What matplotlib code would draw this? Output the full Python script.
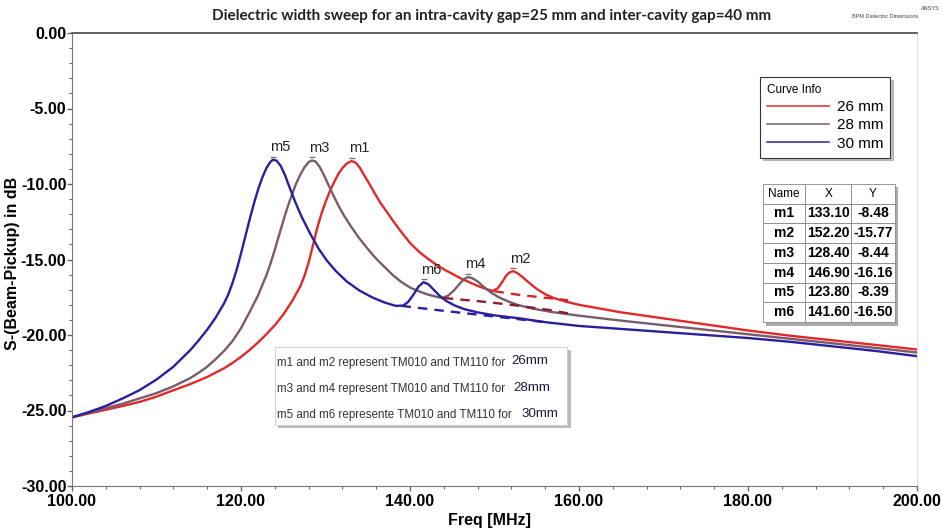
import matplotlib
matplotlib.use("Agg")
import matplotlib.pyplot as plt
from matplotlib.patches import Rectangle
from matplotlib.ticker import MultipleLocator, FormatStrFormatter

# ---- curve data (freq MHz, S in dB) ----
freq_26 = [100, 102, 104, 106, 108, 110, 112, 114, 116, 118, 119, 120, 121, 122, 123,
           124, 125, 126, 127, 127.5, 128, 128.5, 129, 129.5, 130, 130.5, 131, 131.5,
           132, 132.5, 133.1, 133.6, 134.1, 134.6, 135.2, 135.8, 136.5, 137.2, 138,
           139, 140, 141, 142, 143, 144, 145, 146, 147, 148, 149, 149.8, 150.4,
           150.9, 151.4, 151.8, 152.2, 152.7, 153.3, 154, 155, 156, 157, 158.5, 160,
           162, 165, 170, 175, 180, 185, 190, 195, 200]
s_26 = [-25.45, -25.2, -24.95, -24.7, -24.43, -24.08, -23.66, -23.25, -22.78, -22.2,
        -21.85, -21.45, -21.0, -20.5, -19.95, -19.35, -18.65, -17.8, -16.8, -16.1,
        -15.2, -14.1, -12.95, -12.0, -11.2, -10.5, -9.9, -9.35, -8.95, -8.65, -8.48,
        -8.6, -8.95, -9.45, -10.0, -10.6, -11.25, -11.8, -12.45, -13.2, -13.9,
        -14.45, -14.9, -15.3, -15.65, -15.95, -16.25, -16.5, -16.75, -16.95, -17.08,
        -16.9, -16.5, -16.05, -15.85, -15.77, -15.9, -16.15, -16.5, -16.95, -17.3,
        -17.55, -17.8, -18.0, -18.2, -18.5, -18.9, -19.3, -19.7, -20.05, -20.35,
        -20.65, -20.96]

freq_28 = [100, 102, 104, 106, 108, 110, 112, 114, 115, 116, 117, 118, 119, 120,
           121, 122, 123, 123.5, 124, 124.5, 125, 125.5, 126, 126.5, 127, 127.5,
           128, 128.4, 128.8, 129.3, 129.8, 130.3, 130.8, 131.5, 132.2, 133, 134,
           135, 136, 137, 138, 139, 140, 141, 142, 143, 143.8, 144.5, 145.2, 145.8,
           146.4, 146.9, 147.4, 148, 148.7, 149.5, 150.4, 151.5, 152.7, 154.5, 156.7,
           160, 165, 170, 175, 180, 185, 190, 195, 200]
s_28 = [-25.45, -25.15, -24.85, -24.55, -24.2, -23.85, -23.4, -22.85, -22.5, -22.1,
        -21.6, -21.05, -20.4, -19.55, -18.5, -17.4, -16.05, -15.25, -14.35, -13.4,
        -12.45, -11.55, -10.75, -10.0, -9.4, -8.9, -8.55, -8.44, -8.5, -8.85, -9.4,
        -10.0, -10.6, -11.4, -12.1, -12.8, -13.6, -14.3, -14.95, -15.5, -16.05,
        -16.5, -16.85, -17.1, -17.3, -17.45, -17.55, -17.4, -17.05, -16.65, -16.3,
        -16.16, -16.25, -16.45, -16.8, -17.15, -17.47, -17.75, -18.0, -18.25, -18.47,
        -18.72, -19.05, -19.35, -19.65, -19.95, -20.25, -20.55, -20.85, -21.16]

freq_30 = [100, 102, 104, 106, 108, 110, 112, 113, 114, 115, 116, 117, 118, 118.5,
           119, 119.5, 120, 120.5, 121, 121.5, 122, 122.5, 123, 123.5, 123.8, 124.2,
           124.7, 125.2, 125.8, 126.5, 127.2, 128.2, 129.2, 130.2, 131.2, 132.5, 134,
           135.5, 137, 138.3, 139.2, 139.8, 140.5, 141, 141.6, 142.2, 142.8, 143.5,
           144.3, 145.3, 146.5, 148, 150, 153, 156, 160, 165, 170, 175, 180, 185, 190,
           195, 200]
s_30 = [-25.45, -25.1, -24.7, -24.2, -23.65, -22.95, -22.1, -21.55, -21.0, -20.35,
        -19.65, -18.85, -17.9, -17.3, -16.55, -15.65, -14.6, -13.5, -12.4, -11.35,
        -10.4, -9.6, -8.95, -8.52, -8.39, -8.45, -8.8, -9.4, -10.3, -11.3, -12.2,
        -13.3, -14.3, -15.1, -15.75, -16.45, -17.05, -17.5, -17.85, -18.07, -18.05,
        -17.8, -17.25, -16.8, -16.5, -16.65, -17.0, -17.4, -17.75, -18.05, -18.3,
        -18.5, -18.7, -18.9, -19.15, -19.4, -19.6, -19.8, -20.0, -20.2, -20.45,
        -20.75, -21.05, -21.4]

# dashed baselines under the second resonance
dash_freq_26 = [150.0, 153, 156.3, 158.7]
dash_s_26 = [-17.1, -17.35, -17.55, -17.7]
dash_freq_28 = [144.0, 148.8, 152.7, 156.7, 159]
dash_s_28 = [-17.55, -17.8, -18.05, -18.36, -18.6]
dash_freq_30 = [139.0, 144, 148, 152, 156]
dash_s_30 = [-18.07, -18.4, -18.65, -18.9, -19.15]

# marker table
marker_names = ["m1", "m2", "m3", "m4", "m5", "m6"]
marker_x = [133.10, 152.20, 128.40, 146.90, 123.80, 141.60]
marker_y = [-8.48, -15.77, -8.44, -16.16, -8.39, -16.50]

curve_labels = ["26 mm", "28 mm", "30 mm"]
note_lines = ["m1 and m2 represent TM010 and TM110 for",
              "m3 and m4 represent TM010 and TM110 for",
              "m5 and m6 represente TM010 and TM110 for"]
note_sizes = ["26mm", "28mm", "30mm"]

RED = "#e02a2a"
PURPLE = "#7a5b6b"
BLUE = "#2a1f9c"

fig = plt.figure(figsize=(9.42, 5.30), dpi=100)
ax = fig.add_axes([72 / 942, 1 - 486 / 530, 845 / 942, 453 / 530])

l26, = ax.plot(freq_26, s_26, color=RED, lw=1.7, label=curve_labels[0])
l28, = ax.plot(freq_28, s_28, color=PURPLE, lw=1.7, label=curve_labels[1])
l30, = ax.plot(freq_30, s_30, color=BLUE, lw=1.7, label=curve_labels[2])
ax.plot(dash_freq_26, dash_s_26, color="#d02828", lw=1.7, ls=(0, (4, 3)))
ax.plot(dash_freq_28, dash_s_28, color="#8a1e2e", lw=1.7, ls=(0, (4, 3)))
ax.plot(dash_freq_30, dash_s_30, color=BLUE, lw=1.7, ls=(0, (4, 3)))

# peak markers
ax.plot(marker_x, [v + 0.2 for v in marker_y], ls="none", marker="_",
        color="#777777", ms=4, mew=1)
for name, mx, my in zip(marker_names, marker_x, marker_y):
    ax.annotate(name, (mx, my), xytext=(-2, 4), textcoords="offset points",
                ha="left", va="bottom", fontsize=10.5, family="Liberation Sans",
                color="#222222")

ax.set_xlim(100, 200)
ax.set_ylim(-30, 0)
ax.xaxis.set_major_locator(MultipleLocator(20))
ax.xaxis.set_minor_locator(MultipleLocator(4))
ax.yaxis.set_major_locator(MultipleLocator(5))
ax.yaxis.set_minor_locator(MultipleLocator(1))
ax.xaxis.set_major_formatter(FormatStrFormatter("%.2f"))
ax.yaxis.set_major_formatter(FormatStrFormatter("%.2f"))
ax.tick_params(which="both", direction="out", color="#666666")
ax.tick_params(which="major", length=3.5, width=1)
ax.tick_params(which="minor", length=2.5, width=0.8)
ax.tick_params(axis="y", which="major", pad=0.5)
ax.tick_params(axis="x", which="major", pad=2.5)
for lab in ax.get_xticklabels() + ax.get_yticklabels():
    lab.set_fontfamily("Liberation Sans")
    lab.set_fontweight("bold")
    lab.set_fontsize(11.5)
ax.spines["left"].set_color("#777777")
ax.spines["bottom"].set_color("#777777")
ax.spines["top"].set_color("#555555")
ax.spines["top"].set_linewidth(1.3)
ax.spines["right"].set_color("#dddddd")
ax.spines["right"].set_linewidth(0.8)

# legend
leg = ax.legend(handles=[l26, l28, l30], title="Curve Info", loc="upper left",
                bbox_to_anchor=(0.814, 0.903), borderaxespad=0, alignment="left",
                frameon=True, fancybox=False,
                shadow={"color": "#999999", "alpha": 0.6},
                handlelength=4.1, handletextpad=0.5, labelspacing=0.28,
                borderpad=0.45, prop={"family": "Liberation Sans", "size": 11},
                title_fontproperties={"family": "Liberation Sans", "size": 8.5})
leg.get_frame().set_edgecolor("#333333")
leg.get_frame().set_linewidth(0.8)
for h in leg.legend_handles:
    h.set_linewidth(1.1)

# marker table
cell_text = [[n, f"{x:.2f}", f"{y:.2f}"] for n, x, y in zip(marker_names, marker_x, marker_y)]
shadow = Rectangle((0.8178 + 0.004, 0.362 - 0.008), 0.156, 0.305,
                   transform=ax.transAxes, facecolor="#aaaaaa", edgecolor="none",
                   zorder=4)
ax.add_patch(shadow)
tab = ax.table(cellText=cell_text, colLabels=["Name", "X", "Y"],
               bbox=[0.8178, 0.362, 0.156, 0.305], cellLoc="center",
               colWidths=[0.32, 0.35, 0.33])
tab.auto_set_font_size(False)
tab.set_zorder(5)
for (r, c), cell in tab.get_celld().items():
    cell.set_edgecolor("#888888")
    cell.set_linewidth(0.6)
    cell.set_facecolor("white")
    txt = cell.get_text()
    txt.set_fontfamily("Liberation Sans")
    if r == 0:
        txt.set_fontsize(8.5)
    else:
        txt.set_fontsize(10)
        txt.set_fontweight("bold")
    if c == 2:
        cell.PAD = 0.02

# note box
ax.add_patch(Rectangle((0.244, 0.128), 0.346, 0.173, transform=ax.transAxes,
                       facecolor="#bbbbbb", edgecolor="none", zorder=4))
ax.add_patch(Rectangle((0.240, 0.1347), 0.346, 0.1723, transform=ax.transAxes,
                       facecolor="white", edgecolor="#cccccc", lw=0.6, zorder=5))
for i, (line, sz) in enumerate(zip(note_lines, note_sizes)):
    yy = 0.272 - i * 0.058
    t = ax.text(0.243, yy, line, transform=ax.transAxes, fontsize=8.4,
                family="Liberation Sans", color="#333333", va="center", zorder=6)
    ax.annotate(sz, xy=(1, 0.5), xycoords=t, xytext=(4 + i * 1.5, 1),
                textcoords="offset points", fontsize=9.6, family="Liberation Sans",
                color="#1a1a3a", va="center", zorder=6)

fig.text(492 / 942, 1 - 16 / 530,
         "Dielectric width sweep for an intra-cavity gap=25 mm and inter-cavity gap=40 mm",
         ha="center", va="center", fontsize=11, family="Lato", fontweight="bold",
         color="#222222")
fig.text(885 / 942, 1 - 17 / 530, "BPM Dielectric Dimensions", ha="center",
         va="center", fontsize=4, family="Liberation Sans", color="#444444")
fig.text(930 / 942, 1 - 8 / 530, "ANSYS", ha="center", va="center", fontsize=4,
         family="Liberation Sans", color="#444444")
fig.text(490 / 942, 1 - 520 / 530, "Freq [MHz]", ha="center", va="center",
         fontsize=11.5, family="Liberation Sans", fontweight="bold")
fig.text(13 / 942, 1 - 263 / 530, "S-(Beam-Pickup) in dB", ha="center",
         va="center", rotation=90, fontsize=11.5, family="Liberation Sans",
         fontweight="bold")

fig.savefig("out.png", dpi=100, facecolor="white")
